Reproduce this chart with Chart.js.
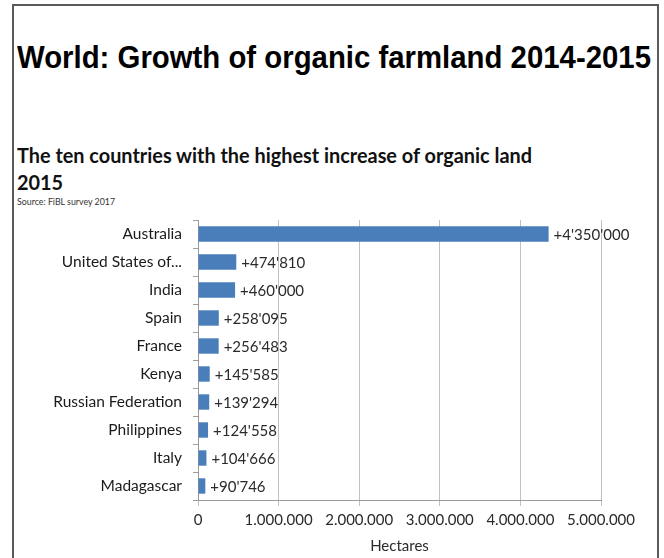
<!DOCTYPE html>
<html><head><meta charset="utf-8">
<script src="https://cdn.jsdelivr.net/npm/chart.js@4/dist/chart.umd.min.js"></script>
<style>
html,body{margin:0;padding:0;background:#fff;width:664px;height:558px;overflow:hidden;position:relative;}
#frame{position:absolute;left:12px;top:4px;width:647px;height:600px;border:2px solid #5a5a5a;border-bottom:none;box-sizing:border-box;}
.t{position:absolute;white-space:nowrap;transform-origin:0 0;line-height:1;}
#title{left:17px;top:39px;font:bold 32px "Liberation Sans",Arial,sans-serif;color:#000;}
#sub1{left:17px;top:142px;font:bold 21px Lato,sans-serif;color:#111;}
#sub2{left:17px;top:169px;font:bold 21px Lato,sans-serif;color:#111;}
#src{left:17px;top:195px;font:10px Lato,sans-serif;color:#333;}
#c{position:absolute;left:0;top:0;}
</style></head>
<body>
<div id="frame"></div>
<div class="t" id="title" data-w="634">World: Growth of organic farmland 2014-2015</div>
<div class="t" id="sub1" data-w="515">The ten countries with the highest increase of organic land</div>
<div class="t" id="sub2">2015</div>
<div class="t" id="src" data-w="98">Source: FiBL survey 2017</div>
<canvas id="c" width="664" height="558"></canvas>
<script>
const categories = ["Australia","United States of...","India","Spain","France","Kenya","Russian Federation","Philippines","Italy","Madagascar"];
const increases = [4350000,474810,460000,258095,256483,145585,139294,124558,104666,90746];
const xTickValues = [0,1000000,2000000,3000000,4000000,5000000];
const axisTitle = "Hectares";

// fit text widths
let s1 = 1;
document.querySelectorAll('.t').forEach(el=>{
  const w = el.getAttribute('data-w');
  if(w){ const s = w/el.getBoundingClientRect().width; el.style.transform='scaleX('+s+')'; if(el.id==='sub1') s1=s; }
});
document.getElementById('sub2').style.transform='scaleX('+s1+')';

const dotFmt = v => String(v).replace(/\B(?=(\d{3})+(?!\d))/g,'.');
const aposFmt = v => '+' + String(v).replace(/\B(?=(\d{3})+(?!\d))/g,"'");

const valueLabels = {
  id:'valueLabels',
  afterDatasetsDraw(chart){
    const ctx = chart.ctx;
    const meta = chart.getDatasetMeta(0);
    ctx.save();
    ctx.font = '15px Lato, sans-serif';
    ctx.fillStyle = '#2a2a2a';
    ctx.textBaseline = 'middle';
    ctx.textAlign = 'left';
    meta.data.forEach((bar,i)=>{
      ctx.fillText(aposFmt(increases[i]), bar.x + 5, bar.y + 1);
    });
    ctx.restore();
  }
};

new Chart(document.getElementById('c'), {
  type:'bar',
  data:{ labels:categories, datasets:[{ data:increases, backgroundColor:'#4a7ebb', borderWidth:0, barPercentage:0.55, categoryPercentage:1 }] },
  options:{
    indexAxis:'y', responsive:false, animation:false, devicePixelRatio:1,
    layout:{ padding:{ top:220, right:63, left:0, bottom:3 } },
    plugins:{ legend:{display:false}, tooltip:{enabled:false} },
    scales:{
      x:{
        min:0, max:5000000,
        afterBuildTicks(scale){ scale.ticks = xTickValues.map(v=>({value:v})); },
        afterFit(scale){ scale.height = 55; },
        ticks:{ callback:v=>dotFmt(v), font:{family:'Lato', size:15}, color:'#2a2a2a', padding:5, maxRotation:0 },
        grid:{ color:'#b9c1cb', tickLength:6, lineWidth:1 },
        border:{ color:'#9a9a9a' },
        title:{ display:true, text:axisTitle, font:{family:'Lato', size:15}, color:'#2a2a2a', padding:{top:0,bottom:0} }
      },
      y:{
        afterFit(scale){ scale.width = 198; },
        ticks:{ font:{family:'Lato', size:15.5}, color:'#1a1a1a', padding:11 },
        grid:{ offset:true, drawOnChartArea:false, tickLength:5, color:'#a0a0a0' },
        border:{ color:'#9a9a9a' }
      }
    }
  },
  plugins:[valueLabels]
});
</script>
</body></html>
